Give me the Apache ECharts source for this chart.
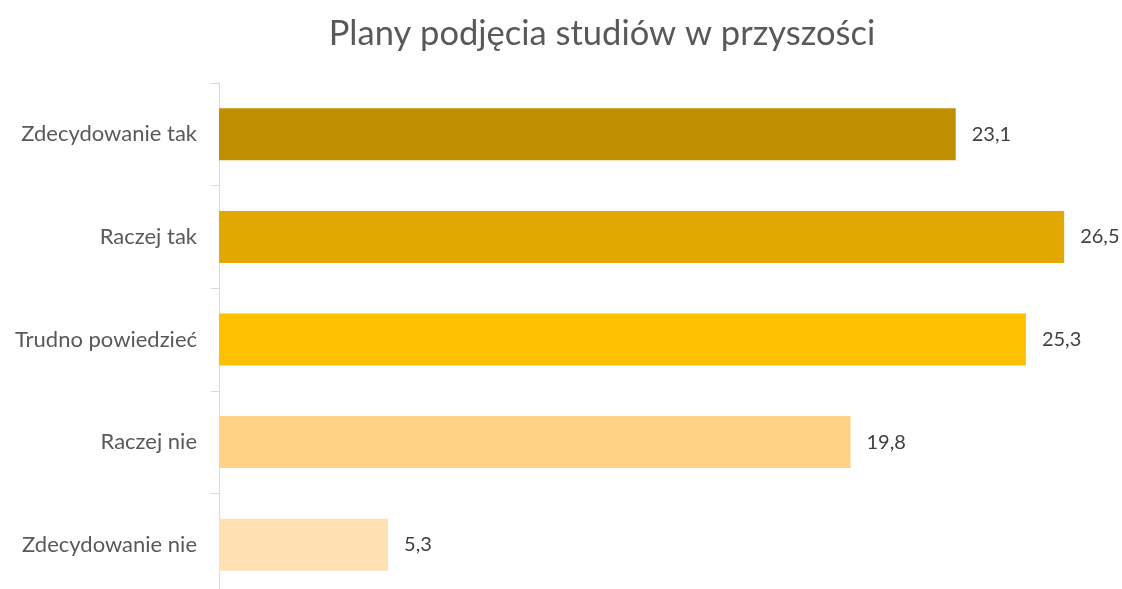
<!DOCTYPE html>
<html>
<head>
<meta charset="utf-8">
<title>Plany podjęcia studiów</title>
<script src="https://cdn.jsdelivr.net/npm/echarts@6/dist/echarts.min.js"></script>
<style>
  html, body { margin: 0; padding: 0; background: #fff; }
  #chart { width: 1122px; height: 589px; }
</style>
</head>
<body>
<div id="chart"></div>
<script>
var categories = ['Zdecydowanie tak', 'Raczej tak', 'Trudno powiedzieć', 'Raczej nie', 'Zdecydowanie nie']
var values = [23.1, 26.5, 25.3, 19.8, 5.3]
var colorList = ['#BF8F00', '#E0A800', '#FFC000', '#FFD285', '#FFE0B3']

var chart = echarts.init(document.getElementById('chart'))
var font = 'Lato, "Open Sans", sans-serif'

var option = {
  title: {
    text: 'Plany podjęcia studiów w przyszości',
    left: 597,
    textAlign: 'center',
    top: 11,
    textStyle: { fontFamily: font, fontSize: 34.5, fontWeight: 'normal', color: '#595959' }
  },
  grid: {
    // plot area, runs a bit past the bottom edge
    top: 83,
    left: 219,
    right: 10,
    height: 513,
    outerBoundsMode: 'none'
  },
  xAxis: {
    type: 'value',
    min: 0,
    max: 28,
    show: false
  },
  yAxis: {
    type: 'category',
    inverse: true,
    data: categories,
    axisLine: { show: true, lineStyle: { color: '#D9D9D9', width: 1 } },
    axisTick: { show: true, length: 8, lineStyle: { color: '#D9D9D9' } },
    axisLabel: { fontFamily: font, fontSize: 22, color: '#595959', margin: 22 }
  },
  series: [
    {
      type: 'bar',
      data: values,
      barWidth: 52,
      itemStyle: {
        color: function (params) {
          return colorList[params.dataIndex]
        }
      },
      label: {
        show: true,
        position: 'right',
        distance: 16,
        fontFamily: font,
        fontSize: 20,
        color: '#404040',
        formatter: function (p) {
          return String(p.value.toFixed(1)).replace('.', ',')
        }
      }
    }
  ]
}
chart.setOption(option)
</script>
</body>
</html>
